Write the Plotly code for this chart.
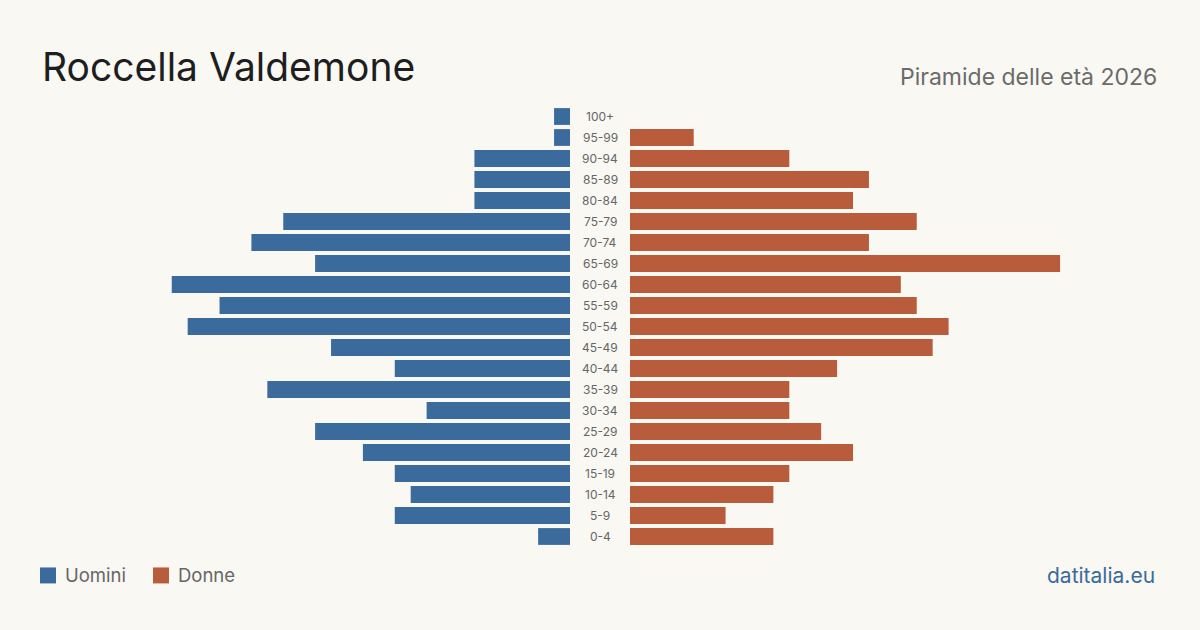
import plotly.graph_objects as go

age_groups = ["0-4", "5-9", "10-14", "15-19", "20-24", "25-29", "30-34", "35-39",
              "40-44", "45-49", "50-54", "55-59", "60-64", "65-69", "70-74", "75-79",
              "80-84", "85-89", "90-94", "95-99", "100+"]
uomini = [2, 11, 10, 11, 13, 16, 9, 19, 11, 15, 24, 22, 25, 16, 20, 18, 6, 6, 6, 1, 1]
donne = [9, 6, 9, 10, 14, 12, 10, 10, 13, 19, 20, 18, 17, 27, 15, 18, 14, 15, 10, 4, 0]

BLUE = "#3b6b9c"
ORANGE = "#b95c3c"
BG = "#f9f8f3"
FONT = "Inter"

W, H = 1200, 630
TOP, BOT = 105.5, 547.5
AX_MAX = 530 / 15.93


def py(p):
    return (BOT - p) / (BOT - TOP)


fig = go.Figure()
fig.add_trace(go.Bar(y=age_groups, x=uomini, orientation="h", marker_color=BLUE,
                     marker_line_width=0,
                     width=0.8, xaxis="x", yaxis="y", name="Uomini", showlegend=False))
fig.add_trace(go.Bar(y=age_groups, x=donne, orientation="h", marker_color=ORANGE,
                     marker_line_width=0,
                     width=0.8, xaxis="x2", yaxis="y", name="Donne", showlegend=False))

annotations = []
for g in age_groups:
    annotations.append(dict(x=0.5, xref="paper", y=g, yref="y", text=g, showarrow=False,
                            font=dict(family=FONT, size=12, color="#666666"),
                            xanchor="center", yanchor="middle"))

annotations += [
    dict(x=40 / W, xref="paper", y=py(66), yref="paper", text="Roccella Valdemone",
         showarrow=False, xanchor="left", yanchor="middle",
         font=dict(family=FONT, size=39, color="#1e1e1e")),
    dict(x=1159 / W, xref="paper", y=py(76.5), yref="paper", text="Piramide delle età 2026",
         showarrow=False, xanchor="right", yanchor="middle",
         font=dict(family=FONT, size=23, color="#6b6b6b")),
    dict(x=63 / W, xref="paper", y=py(576), yref="paper", text="Uomini",
         showarrow=False, xanchor="left", yanchor="middle",
         font=dict(family=FONT, size=18.5, color="#666666")),
    dict(x=176 / W, xref="paper", y=py(576), yref="paper", text="Donne",
         showarrow=False, xanchor="left", yanchor="middle",
         font=dict(family=FONT, size=18.5, color="#666666")),
    dict(x=1157 / W, xref="paper", y=py(576), yref="paper", text="datitalia.eu",
         showarrow=False, xanchor="right", yanchor="middle",
         font=dict(family=FONT, size=21, color=BLUE)),
]

shapes = [
    dict(type="rect", xref="paper", yref="paper", x0=40 / W, x1=56 / W,
         y0=py(584), y1=py(568), fillcolor=BLUE, line_width=0),
    dict(type="rect", xref="paper", yref="paper", x0=153 / W, x1=169 / W,
         y0=py(584), y1=py(568), fillcolor=ORANGE, line_width=0),
]

fig.update_layout(
    width=W, height=H, autosize=False,
    paper_bgcolor=BG, plot_bgcolor=BG,
    margin=dict(l=0, r=0, t=TOP, b=H - BOT, pad=0),
    bargap=0.2,
    xaxis=dict(domain=[40 / W, 570 / W], range=[AX_MAX, 0], visible=False, fixedrange=True),
    xaxis2=dict(domain=[630 / W, 1160 / W], range=[0, AX_MAX], visible=False, fixedrange=True),
    yaxis=dict(type="category", categoryorder="array", categoryarray=age_groups,
               range=[-0.5, len(age_groups) - 0.5], visible=False, fixedrange=True),
    annotations=annotations,
    shapes=shapes,
    font=dict(family=FONT),
)

fig.write_html("out.html")
